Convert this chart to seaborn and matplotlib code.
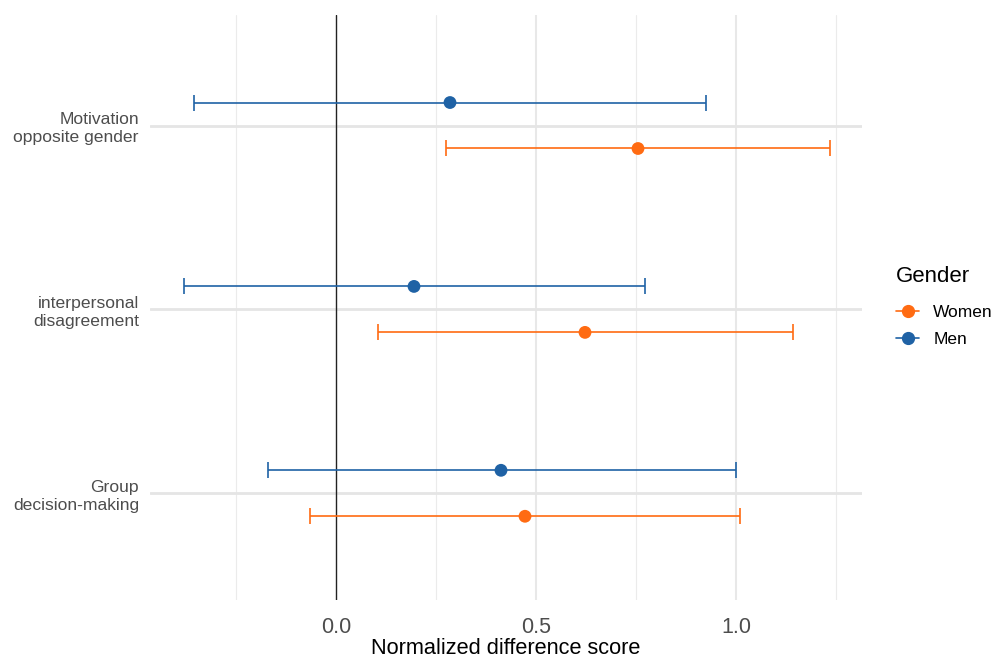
import numpy as np
import pandas as pd
import matplotlib
matplotlib.use("Agg")
import matplotlib.pyplot as plt
import seaborn as sns
from matplotlib.lines import Line2D

sns.set_theme(style="white")
plt.rcParams['font.family'] = ['Liberation Sans', 'DejaVu Sans']

# data
categories = ["Group\ndecision-making", "interpersonal\ndisagreement", "Motivation\nopposite gender"]
men_est = [0.4125, 0.195, 0.285]
men_lo = [-0.17, -0.38, -0.355]
men_hi = [1.0, 0.7725, 0.925]
women_est = [0.4725, 0.6225, 0.755]
women_lo = [-0.065, 0.105, 0.275]
women_hi = [1.01, 1.1425, 1.235]

colors = {"Women": "#FF6B12", "Men": "#1F62A5"}
offset = {"Men": 0.125, "Women": -0.125}

rows = []
for i, c in enumerate(categories):
    rows.append(dict(cat=c, gender="Men", est=men_est[i], lo=men_lo[i], hi=men_hi[i]))
    rows.append(dict(cat=c, gender="Women", est=women_est[i], lo=women_lo[i], hi=women_hi[i]))
df = pd.DataFrame(rows)
df["y"] = df["cat"].map({c: i + 1 for i, c in enumerate(categories)}) + df["gender"].map(offset)

fig = plt.figure(figsize=(10, 6.6), dpi=100)
ax = fig.add_axes([0.15, 0.091, 0.712, 0.886])

# grid
for x in [-0.25, 0.25, 0.75, 1.25]:
    ax.axvline(x, color="#EBEBEB", lw=0.8, zorder=0)
for x in [0.5, 1.0]:
    ax.axvline(x, color="#E8E8E8", lw=1.5, zorder=0)
for y in [1, 2, 3]:
    ax.axhline(y, color="#E5E5E5", lw=2.0, zorder=0)
ax.axvline(0, color="#222222", lw=1.0, zorder=1)

for g in ["Men", "Women"]:
    sub = df[df.gender == g]
    ax.errorbar(sub["est"], sub["y"],
                xerr=[sub["est"] - sub["lo"], sub["hi"] - sub["est"]],
                fmt="none", ecolor=colors[g], elinewidth=1.2, capsize=6, capthick=1.2, zorder=2)

sns.scatterplot(data=df, x="est", y="y", hue="gender", palette=colors, s=85,
                edgecolor="none", legend=False, ax=ax, zorder=3)

ax.set_xlim(-0.465, 1.315)
ax.set_ylim(0.42, 3.6)
ax.set_xticks([0.0, 0.5, 1.0])
ax.set_xticklabels(["0.0", "0.5", "1.0"])
ax.set_yticks([1, 2, 3])
ax.set_yticklabels(categories, ha="right", multialignment="right", linespacing=1.25)
ax.tick_params(axis="x", labelsize=15.5, labelcolor="#4D4D4D", length=0, pad=12)
ax.tick_params(axis="y", labelsize=12.6, labelcolor="#4D4D4D", length=0, pad=8)
ax.set_xlabel("Normalized difference score", fontsize=15.7, color="black", labelpad=0)
ax.set_ylabel("")
for s in ax.spines.values():
    s.set_visible(False)

handles = [Line2D([0], [0], color=colors[g], marker="o", markersize=8.5, lw=1.2, label=g)
           for g in ["Women", "Men"]]
leg = fig.legend(handles=handles, title="Gender", loc="upper left", bbox_to_anchor=(0.896, 0.597),
                 frameon=False, fontsize=12.5, title_fontsize=16, handlelength=1.35,
                 handletextpad=0.8, labelspacing=0.7, borderpad=0, borderaxespad=0,
                 labelcolor="black")
leg.get_title().set_color("black")
leg._legend_box.align = "left"
leg._legend_box.sep = 13

fig.savefig("out.png", dpi=100)
